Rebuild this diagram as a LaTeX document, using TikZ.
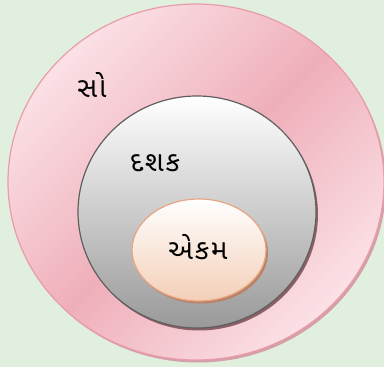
\documentclass[tikz,border=0pt]{standalone}
\usepackage{fontspec}
\newfontfamily\gujfont[Script=Gujarati,LetterSpace=6]{Noto Sans Gujarati UI}
\usetikzlibrary{shapes.geometric}
\definecolor{bg}{HTML}{E1EFDF}
\definecolor{pinkA}{HTML}{FBE1E6}
\definecolor{pinkB}{HTML}{EFAFBA}
\definecolor{pinkEdge}{HTML}{E99CAA}
\definecolor{pinkShadow}{HTML}{C98892}
\definecolor{greyEdge}{HTML}{5F5F5F}
\definecolor{greyBot}{HTML}{999999}
\definecolor{peachBot}{HTML}{F3CFB8}
\definecolor{peachEdge}{HTML}{E9A582}
\definecolor{peachShadow}{HTML}{B98266}
\tikzset{
  lbl/.style={font=\gujfont\fontsize{28}{32}\selectfont, text=black, inner sep=0pt},
}
\begin{document}
\begin{tikzpicture}[x=1pt,y=-1pt]
\fill[bg] (0,0) rectangle (384,367);
\useasboundingbox (0,0) rectangle (384,367);
% big pink ellipse
\fill[pinkShadow!80] (198,184.5) ellipse [x radius=188, y radius=178];
\shade[left color=pinkA, right color=pinkA, middle color=pinkB,
  shading angle=45, draw=pinkEdge, line width=1.2pt]
  (196,182) ellipse [x radius=188, y radius=178];
\node[lbl] (so) at (92,85) {સો};
% grey circle
\fill[black!30!pinkShadow] (199,214.5) ellipse [x radius=119, y radius=116];
\shade[top color=white, bottom color=greyBot, draw=greyEdge, line width=1.2pt]
  (197,212) ellipse [x radius=119, y radius=116];
\node[lbl] (das) at (155,163) {દશક};
% small ellipse
\fill[peachShadow] (201,252.5) ellipse [x radius=67, y radius=51];
\shade[top color=white, bottom color=peachBot, draw=peachEdge, line width=1.2pt]
  (199,250) ellipse [x radius=67, y radius=51];
\node[lbl] (ek) at (198,247) {એકમ};
\end{tikzpicture}
\end{document}
